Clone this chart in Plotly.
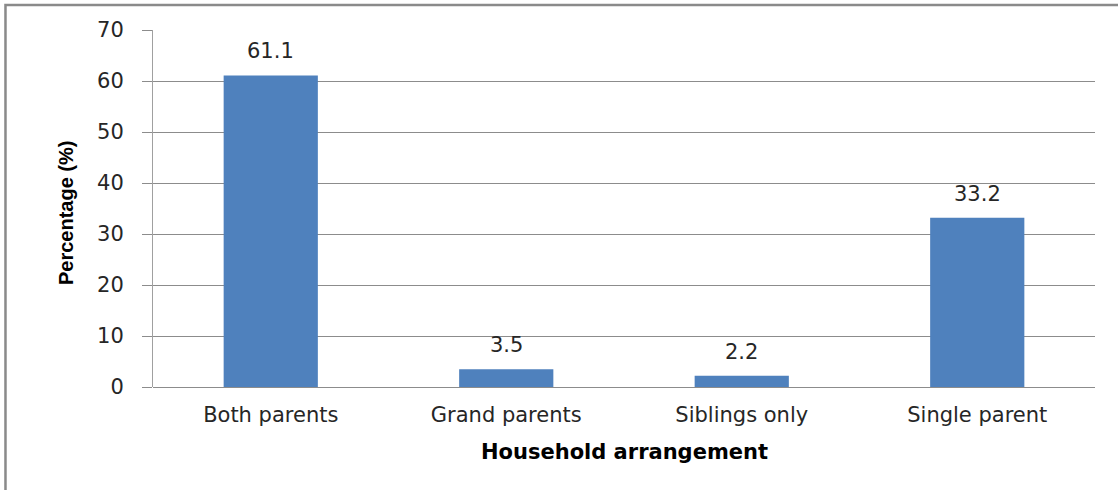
import plotly.graph_objects as go

categories = ["Both parents", "Grand parents", "Siblings only", "Single parent"]
values = [61.1, 3.5, 2.2, 33.2]
y_ticks = [0, 10, 20, 30, 40, 50, 60, 70]
x_title = "Household arrangement"
y_title = "Percentage (%)"

BAR = "#4F81BD"
GRID = "#8C8C8C"
TXT = "#262626"
FONT = "DejaVu Sans"

fig = go.Figure()
fig.add_trace(go.Bar(
    x=categories, y=values,
    marker=dict(color=BAR, line=dict(width=0)),
    hoverinfo="skip",
))

for c, v in zip(categories, values):
    fig.add_annotation(x=c, y=v, text=f"{v:.1f}", showarrow=False,
                       yanchor="bottom", yshift=10,
                       font=dict(family=FONT, size=21, color=TXT))

fig.add_annotation(xref="paper", yref="paper", x=0.5, y=-0.182,
                   text=f"<b>{x_title}</b>", showarrow=False,
                   xanchor="center", yanchor="middle",
                   font=dict(family="DejaVu Sans", size=21, color="#000000"))
fig.add_annotation(xref="paper", yref="paper", x=-0.0924, y=0.49,
                   text=f"<b>{y_title}</b>", showarrow=False, textangle=-90,
                   xanchor="center", yanchor="middle",
                   font=dict(family="Liberation Sans", size=20, color="#000000"))

# outer frame (left and top edges)
fig.add_shape(type="path", xref="paper", yref="paper",
              path="M -0.1566,-0.30 L -0.1566,1.070 L 1.03,1.070",
              line=dict(color="#8A8A8A", width=2.5))

fig.update_layout(
    width=1118, height=490,
    margin=dict(l=153, r=23, t=30, b=103),
    paper_bgcolor="white", plot_bgcolor="white",
    bargap=0.6, showlegend=False,
    font=dict(family=FONT, size=21, color=TXT),
)
fig.update_xaxes(
    showgrid=False, showline=False, ticks="",
    tickfont=dict(family=FONT, size=21, color=TXT),
    ticklabelstandoff=13,
)
fig.update_yaxes(
    range=[0, 70], tickvals=y_ticks, ticktext=[str(t) for t in y_ticks],
    showgrid=True, gridcolor=GRID, gridwidth=1,
    zeroline=True, zerolinecolor=GRID, zerolinewidth=1,
    showline=True, linecolor="#A0A0A0", linewidth=1,
    ticks="outside", ticklen=10, tickcolor=GRID,
    tickfont=dict(family=FONT, size=21, color=TXT),
    ticklabelstandoff=14,
)

fig.write_html("out.html",
               config={"displayModeBar": False},
               post_script="document.body.style.margin='0';document.body.style.overflow='hidden';")
